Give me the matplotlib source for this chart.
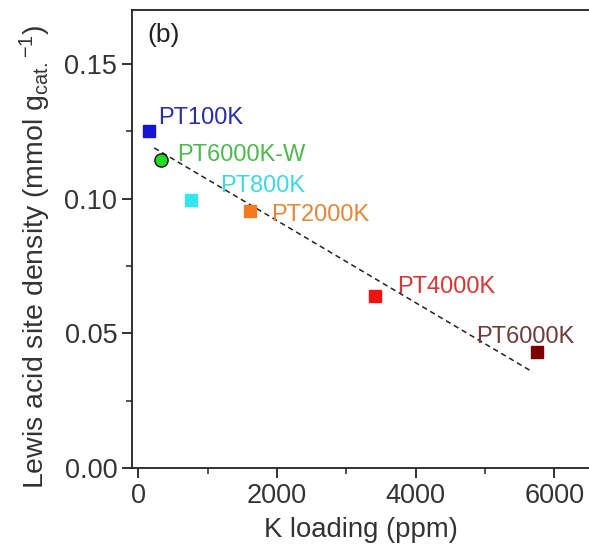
import matplotlib
matplotlib.use('Agg')
import matplotlib.pyplot as plt
from matplotlib.ticker import MultipleLocator

# sample names, K loading (ppm), Lewis acid site density (mmol/g)
samples = ['PT100K', 'PT6000K-W', 'PT800K', 'PT2000K', 'PT4000K', 'PT6000K']
k_loading = [160, 330, 760, 1610, 3410, 5755]
lewis_density = [0.125, 0.1144, 0.0993, 0.0952, 0.0640, 0.0430]
markers = ['s', 'o', 's', 's', 's', 's']
marker_colors = ['#1414d2', '#22dd22', '#33e6ef', '#f47a20', '#ef1212', '#7d0000']
text_colors = ['#2c2ca6', '#4fb84f', '#3ed8e2', '#e08838', '#d63636', '#6e3c3c']
# label offsets in points (dx, dy)
label_offsets = [(6.6, 1.4), (11.9, -4.5), (21.3, 2.8), (15.4, -10.4), (15.8, -1.9), (-44.2, 3.2)]

# linear trend line end points
fit_x = [230, 5690]
fit_y = [0.1188, 0.0356]

plt.rcParams['font.family'] = ['Liberation Sans', 'DejaVu Sans']
plt.rcParams['mathtext.fontset'] = 'custom'
plt.rcParams['mathtext.rm'] = 'Liberation Sans'
plt.rcParams['mathtext.it'] = 'Liberation Sans:italic'

fig = plt.figure(figsize=(5.89, 5.49), dpi=100)
ax = fig.add_axes([0.224, 0.1475, 0.776, 0.8345])

ax.plot(fit_x, fit_y, linestyle=(0, (3.5, 2.5)), color='#222222', lw=1.1, zorder=2)

for name, x, y, m, mc, tc, off in zip(samples, k_loading, lewis_density, markers,
                                      marker_colors, text_colors, label_offsets):
    if m == 'o':
        ax.plot(x, y, marker=m, ms=9.5, color=mc, mec='#111111', mew=1.0,
                ls='none', zorder=3)
    else:
        ax.plot(x, y, marker=m, ms=9.3, color=mc, mec=mc, ls='none', zorder=3)
    ax.annotate(name, (x, y), xytext=off, textcoords='offset points',
                color=tc, fontsize=17, ha='left', va='bottom', zorder=4)

ax.text(0.033, 0.945, '(b)', transform=ax.transAxes, fontsize=19,
        color='#222222', ha='left', va='center')

ax.set_xlim(-90, 6500)
ax.set_ylim(0, 0.17)
ax.xaxis.set_major_locator(MultipleLocator(2000))
ax.xaxis.set_minor_locator(MultipleLocator(1000))
ax.yaxis.set_major_locator(MultipleLocator(0.05))
ax.yaxis.set_minor_locator(MultipleLocator(0.025))
ax.yaxis.set_major_formatter(plt.FormatStrFormatter('%.2f'))

ax.tick_params(which='major', direction='out', length=7, width=1.3,
               labelsize=19.5, labelcolor='#333333', color='#222222')
ax.tick_params(which='minor', direction='out', length=4, width=1.1, color='#222222')
for side in ['left', 'bottom', 'top']:
    ax.spines[side].set_linewidth(1.3)
    ax.spines[side].set_color('#222222')
ax.spines['right'].set_visible(False)

ax.set_xlabel('K loading (ppm)', fontsize=19.8, color='#333333', labelpad=6)
ax.set_ylabel('Lewis acid site density (mmol g$_{\\rm cat.}$$^{-1}$)',
              fontsize=20.5, color='#333333', labelpad=8)
ax.yaxis.label.set_y(0.46)

fig.savefig('out.png', dpi=100)
